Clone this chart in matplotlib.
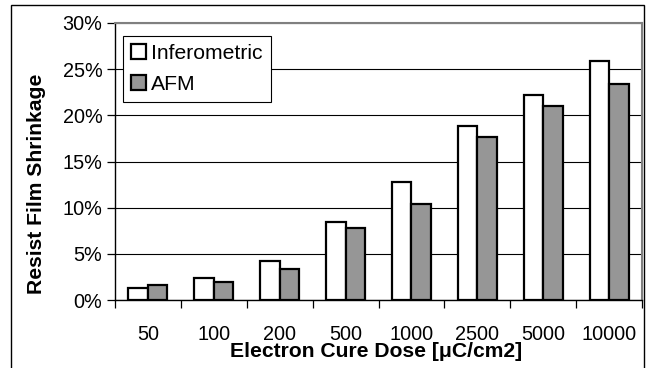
import matplotlib
matplotlib.use("Agg")
import matplotlib.pyplot as plt
from matplotlib.patches import Rectangle
from matplotlib.ticker import FuncFormatter, MultipleLocator
import numpy as np

plt.rcParams['font.family'] = ['Liberation Sans', 'DejaVu Sans']

doses = ["50", "100", "200", "500", "1000", "2500", "5000", "10000"]
inferometric = [1.3, 2.4, 4.2, 8.4, 12.8, 18.8, 22.2, 25.9]
afm = [1.6, 2.0, 3.4, 7.8, 10.4, 17.6, 21.0, 23.4]

W, H = 647, 368
fig = plt.figure(figsize=(W / 100, H / 100), dpi=100)
ax = fig.add_axes([115 / W, (H - 300) / H, (642 - 115) / W, 277 / H])

x = np.arange(len(doses))
bw = 0.296
ax.bar(x - bw / 2, inferometric, bw, color="white", edgecolor="black",
       linewidth=1.6, label="Inferometric", zorder=3)
ax.bar(x + bw / 2, afm, bw, color="#969696", edgecolor="black",
       linewidth=1.6, label="AFM", zorder=3)

ax.set_xlim(-0.5, len(doses) - 0.5)
ax.set_ylim(0, 30)
ax.yaxis.set_major_locator(MultipleLocator(5))
ax.yaxis.set_major_formatter(FuncFormatter(lambda v, p: f"{v:.0f}%"))
ax.grid(axis="y", color="black", linewidth=0.8, zorder=0)

# category labels centred, tick marks on the category boundaries
ax.set_xticks(x)
ax.set_xticklabels(doses, fontsize=14.3)
ax.set_xticks(np.arange(len(doses) + 1) - 0.5, minor=True)
ax.tick_params(axis="x", which="major", length=0, pad=18)
ax.tick_params(axis="x", which="minor", length=6, width=0.9, direction="out")
ax.tick_params(axis="y", length=6, width=0.9, direction="out", labelsize=14.3, pad=3)

for side in ("left", "bottom"):
    ax.spines[side].set_color("black")
    ax.spines[side].set_linewidth(1.0)
for side in ("top", "right"):
    ax.spines[side].set_color("#808080")
    ax.spines[side].set_linewidth(1.5)

ax.set_xlabel("Electron Cure Dose [\u03bcC/cm2]", fontsize=15.2, fontweight="bold")
ax.xaxis.set_label_coords(0.4955, -0.152)
ax.set_ylabel("Resist Film Shrinkage", fontsize=15.2, fontweight="bold")
ax.yaxis.set_label_coords(-0.131, 0.42)

leg = ax.legend(loc="upper left", bbox_to_anchor=((122.7 - 115) / 527, (300 - 35.7) / 277),
                fontsize=15.2, frameon=True, fancybox=False, framealpha=1,
                edgecolor="black", handlelength=0.7, handleheight=0.7,
                handletextpad=0.25, borderpad=0.4, labelspacing=0.55,
                borderaxespad=0)
leg.get_frame().set_linewidth(0.8)
leg.set_zorder(5)

# outer chart frame (open at the bottom edge)
fig.patches.append(Rectangle((11 / W, -0.05), (644 - 11) / W, (H - 5) / H + 0.05,
                             transform=fig.transFigure, fill=False,
                             edgecolor="black", linewidth=1.0))

fig.savefig("out.png", dpi=100)
